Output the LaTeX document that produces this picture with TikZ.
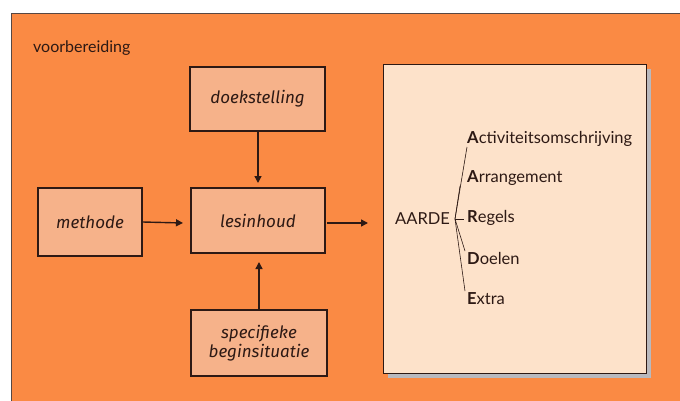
\documentclass[tikz,border=0pt]{standalone}
\usepackage{fontspec}
\setmainfont{Lato}
\newfontfamily\handfont{Fira Sans}
\usetikzlibrary{arrows.meta}
\definecolor{bgorange}{RGB}{250,138,68}
\definecolor{boxfill}{RGB}{246,178,138}
\definecolor{peach}{RGB}{253,226,202}
\definecolor{ink}{RGB}{45,25,20}
\definecolor{shadowgrey}{RGB}{185,185,190}
\tikzset{
  hbox/.style={draw=ink, line width=1.3pt, fill=boxfill, inner sep=0pt, font=\handfont\itshape\fontsize{17}{19}\selectfont, text=ink, align=center},
  flow/.style={draw=ink, line width=1.4pt, -{Triangle[length=7pt,width=7pt]}},
  item/.style={anchor=south west, inner sep=0pt, font=\fontsize{16.5}{18}\selectfont, text=ink},
  twig/.style={draw=ink, line width=0.6pt}
}
\begin{document}
\begin{tikzpicture}[x=1pt,y=-1pt]
\useasboundingbox (0,0) rectangle (680,401);
\fill[white] (0,0) rectangle (680,401);
\fill[bgorange] (11,14) rectangle (680,401);
\draw[ink!80, line width=1pt] (11,401) -- (11,14) -- (680,14);
\node[anchor=south west, inner sep=0pt, text=ink, font=\fontsize{16}{18}\selectfont] (title) at (33,56) {voorbereiding};
% boxes
\node[hbox, minimum width=135pt, minimum height=64pt] (doel) at (257.5,99) {doekstelling};
\node[hbox, minimum width=104pt, minimum height=68pt] (meth) at (90,222) {methode};
\node[hbox, minimum width=134pt, minimum height=65pt] (les) at (258,220.5) {lesinhoud};
\node[hbox, minimum width=136pt, minimum height=66pt] (spec) at (259,343) {specifieke\\beginsituatie};
% big box
\fill[shadowgrey] (388,69) rectangle (651,378);
\node[draw=ink, line width=0.8pt, fill=peach, minimum width=263pt, minimum height=309pt, inner sep=0pt] (big) at (514.5,218.5) {};
% arrows
\draw[flow] (doel.south -| 258,0) -- (258,183);
\draw[flow] (meth.east) -- (183,223);
\draw[flow] (spec.north -| 259,0) -- (259,262);
\draw[flow] (327,223) -- (368,223);
% AARDE tree
\node[anchor=west, inner sep=0pt, text=ink, font=\fontsize{16.5}{18}\selectfont] (aarde) at (395,219) {AARDE};
\node[item] (a1) at (467,147) {\textbf{A}ctiviteitsomschrijving};
\node[item] (a2) at (467,186) {\textbf{A}rrangement};
\node[item] (a3) at (467,226) {\textbf{R}egels};
\node[item] (a4) at (467,265) {\textbf{D}oelen};
\node[item] (a5) at (467,305) {\textbf{E}xtra};
\coordinate (root) at (455,219);
\draw[twig] (root) -- (a1.south west);
\draw[twig] (root) -- (460,186);
\draw[twig] (root) -- (464,219);
\draw[twig] (root) -- (465,251);
\draw[twig] (root) -- (465,291);
\end{tikzpicture}
\end{document}
